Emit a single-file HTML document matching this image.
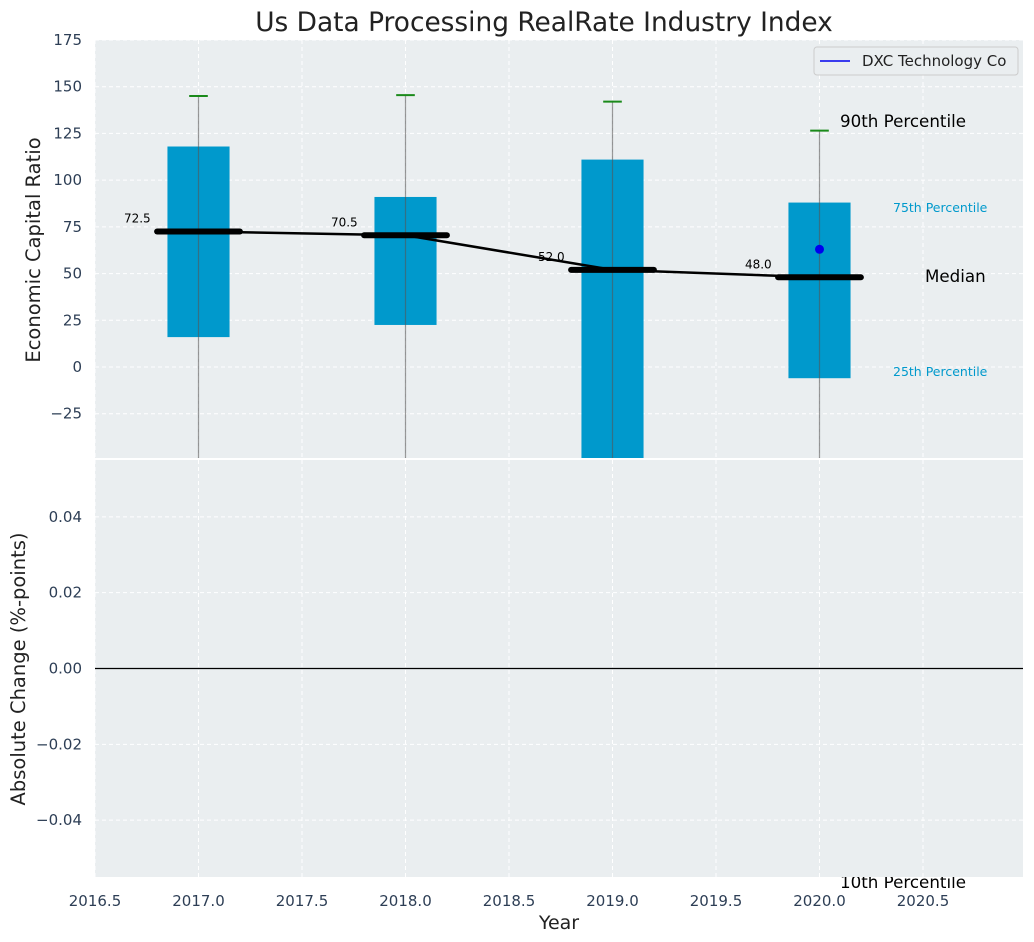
<!DOCTYPE html>
<html><head><meta charset="utf-8"><style>
body{margin:0;background:#fff;}
svg{font-family:"DejaVu Sans","Liberation Sans",sans-serif;display:block;}
</style></head><body>
<svg id="chart" width="1034" height="942" xmlns="http://www.w3.org/2000/svg"></svg>
<script>
const years=[2017,2018,2019,2020];
const p10=[-80,-80,-80,-80];
const p25=[16,22.5,-49,-6];
const p50=[72.5,70.5,52.0,48.0];
const p75=[118,91,111,88];
const p90=[145,145.5,142,126.5];
const companyYear=[2020];
const companyVal=[63];
const topTicks=[-25,0,25,50,75,100,125,150,175];
const botTicks=[-0.04,-0.02,0.00,0.02,0.04];
const xTicks=[2016.5,2017.0,2017.5,2018.0,2018.5,2019.0,2019.5,2020.0,2020.5];

const NS="http://www.w3.org/2000/svg";
const svg=document.getElementById('chart');
const L=95,R=1023,T1=40,B1=458,T2=460,B2=877;
const X=v=>L+(v-2016.5)*207;
const Y1=v=>T1+(175-v)/(175+48.7)*(B1-T1);
const Y2=v=>T2+(0.055-v)/0.11*(B2-T2);
function el(tag,attrs,parent){const e=document.createElementNS(NS,tag);for(const k in attrs)e.setAttribute(k,attrs[k]);(parent||svg).appendChild(e);return e;}
function txt(s,attrs,parent){const e=el('text',attrs,parent);e.textContent=s;return e;}

let t=txt('Us Data Processing RealRate Industry Index',{x:544,y:31,'font-size':26.4,'text-anchor':'middle',fill:'#222'});



t=txt('10th Percentile',{x:840,y:888,'font-size':16.7,fill:'#000'});



let g1=el('g',{});


el('rect',{x:L,y:T1,width:R-L,height:B1-T1,fill:'#eaeef0'},g1);
let g2=el('g',{});


el('rect',{x:L,y:T2,width:R-L,height:B2-T2,fill:'#eaeef0'},g2);

const cp=el('clipPath',{id:'c1'});
el('rect',{x:L,y:T1,width:R-L,height:B1-T1},cp);

xTicks.forEach(v=>{
  el('line',{x1:X(v),x2:X(v),y1:T1,y2:B1,stroke:'#fff','stroke-dasharray':'4,3'},g1);
  el('line',{x1:X(v),x2:X(v),y1:T2,y2:B2,stroke:'#fff','stroke-dasharray':'4,3'},g2);
  const l=txt(v.toFixed(1),{x:X(v),y:906,'font-size':15,'text-anchor':'middle',fill:'#2d3e55'});
  
  
});
topTicks.forEach(v=>{
  el('line',{x1:L,x2:R,y1:Y1(v),y2:Y1(v),stroke:'#fff','stroke-dasharray':'4,3'},g1);
  const l=txt(String(v).replace('-','\u2212'),{x:82,y:Y1(v)+5,'font-size':15,'text-anchor':'end',fill:'#2d3e55'});
  
  
});
botTicks.forEach(v=>{
  el('line',{x1:L,x2:R,y1:Y2(v),y2:Y2(v),stroke:'#fff','stroke-dasharray':'4,3'},g2);
  const l=txt(v.toFixed(2).replace('-','\u2212'),{x:82,y:Y2(v)+5,'font-size':15,'text-anchor':'end',fill:'#2d3e55'});
  
  
});
el('line',{x1:L,x2:R,y1:Y2(0),y2:Y2(0),stroke:'#000','stroke-width':1.2},g2);

const gb=el('g',{'clip-path':'url(#c1)'});
years.forEach((y,i)=>{
  const b=el('rect',{x:X(y-0.15),y:Y1(p75[i]),width:0.3*207,height:Y1(p25[i])-Y1(p75[i]),fill:'#0099cc'},gb);
  
  
  el('line',{x1:X(y),x2:X(y),y1:Y1(p90[i]),y2:Y1(p10[i]),stroke:'#555','stroke-opacity':0.6,'stroke-width':1.2},gb);
  const w=el('line',{x1:X(y-0.045),x2:X(y+0.045),y1:Y1(p90[i]),y2:Y1(p90[i]),stroke:'#1a8a1a','stroke-width':2},gb);
  
  
});
const ml=el('polyline',{points:years.map((y,i)=>X(y)+','+Y1(p50[i])).join(' '),fill:'none',stroke:'#000','stroke-width':2.5},gb);


years.forEach((y,i)=>{
  const m=el('line',{x1:X(y-0.2),x2:X(y+0.2),y1:Y1(p50[i]),y2:Y1(p50[i]),stroke:'#000','stroke-width':6,'stroke-linecap':'round'},gb);
  
  
  const l=txt(p50[i].toFixed(1),{x:X(y-0.36),y:Y1(p50[i])-9,'font-size':12,fill:'#000'});
  
  
});
companyYear.forEach((y,i)=>{
  const c=el('circle',{cx:X(y),cy:Y1(companyVal[i]),r:4.5,fill:'#0000ee'},gb);
  
  
});

[['90th Percentile',840,127,16.7,'#000'],['75th Percentile',893,212,12.5,'#0099cc'],['Median',925,282,16.7,'#000'],['25th Percentile',893,376,12.5,'#0099cc']].forEach(a=>{
  const l=txt(a[0],{x:a[1],y:a[2],'font-size':a[3],fill:a[4]});
  
  
});

const lg=el('g',{});


el('rect',{x:814,y:47,width:204,height:28,rx:3,fill:'#eaeef0',stroke:'#ccc'},lg);
el('line',{x1:820,x2:850,y1:61,y2:61,stroke:'#0000ee','stroke-width':1.5},lg);
txt('DXC Technology Co',{x:862,y:66,'font-size':15,fill:'#222'},lg);

t=txt('Economic Capital Ratio',{x:0,y:0,'font-size':19.5,'text-anchor':'middle',fill:'#222',transform:'translate(40,250) rotate(-90)'});


t=txt('Absolute Change (%-points)',{x:0,y:0,'font-size':19.5,'text-anchor':'middle',fill:'#222',transform:'translate(25,669) rotate(-90)'});


t=txt('Year',{x:559,y:929,'font-size':19,'text-anchor':'middle',fill:'#222'});


</script>
</body></html>
